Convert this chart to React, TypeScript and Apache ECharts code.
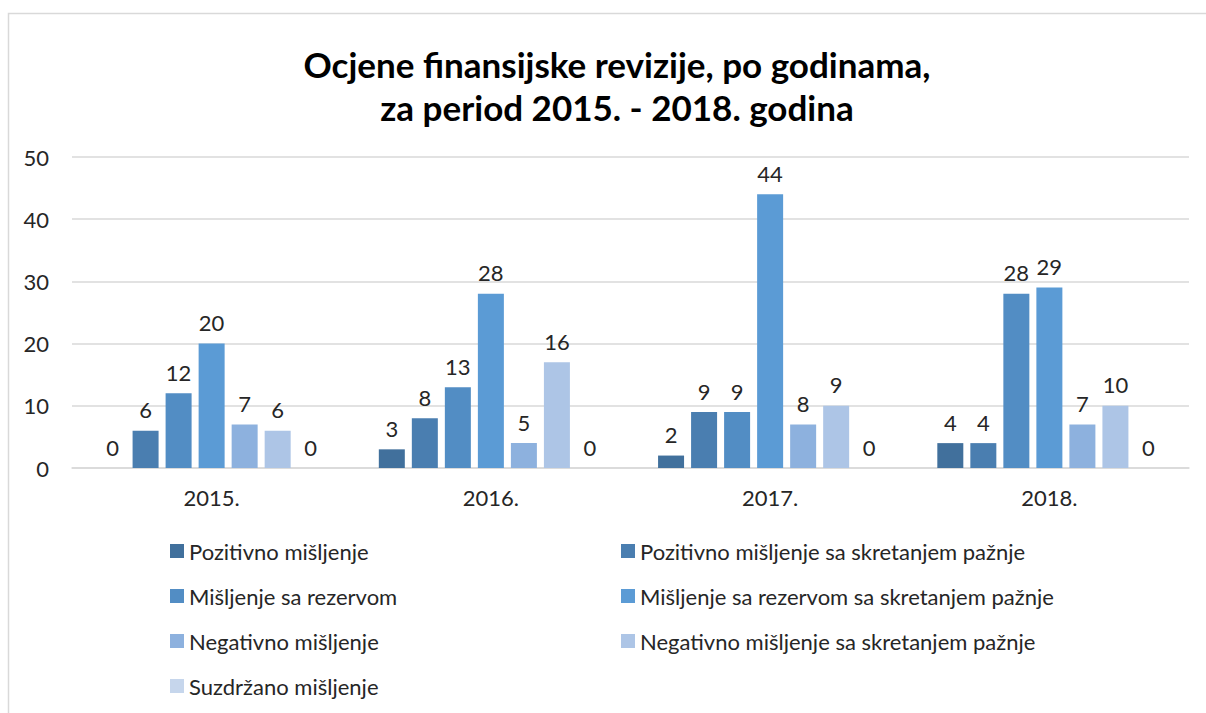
import React, { useEffect, useRef } from "react";
import * as echarts from "echarts";

const years = ["2015.", "2016.", "2017.", "2018."];
const seriesNames = [
  "Pozitivno mišljenje",
  "Pozitivno mišljenje sa skretanjem pažnje",
  "Mišljenje sa rezervom",
  "Mišljenje sa rezervom sa skretanjem pažnje",
  "Negativno mišljenje",
  "Negativno mišljenje sa skretanjem pažnje",
  "Suzdržano mišljenje",
];
// bar heights as drawn in the reference
const pozitivno = [0, 3, 2, 4];
const pozitivnoSkretanje = [6, 8, 9, 4];
const rezerva = [12, 13, 9, 28];
const rezervaSkretanje = [20, 28, 44, 29];
const negativno = [7, 4, 7, 7];
const negativnoSkretanje = [6, 17, 10, 10];
const suzdrzano = [0, 0, 0, 0];
// data labels as printed in the reference
const negativnoLabels = [7, 5, 8, 7];
const negativnoSkretanjeLabels = [6, 16, 9, 10];

const yTicks = [0, 10, 20, 30, 40, 50];

const colors = ["#41709C", "#4A7EB0", "#528DC4", "#5B9BD5", "#8DB1DE", "#ADC5E6", "#C6D6EC"];

export default function App() {
  const ref = useRef<HTMLDivElement>(null);
  useEffect(() => {
    if (!ref.current) return;
    const chart = echarts.init(ref.current, undefined, { renderer: "svg" });
    const font = "Lato, 'Open Sans', sans-serif";
    const values = [pozitivno, pozitivnoSkretanje, rezerva, rezervaSkretanje, negativno, negativnoSkretanje, suzdrzano];
    const labels = [pozitivno, pozitivnoSkretanje, rezerva, rezervaSkretanje, negativnoLabels, negativnoSkretanjeLabels, suzdrzano];
    const legendPos = [
      { left: 170, row: 0 },
      { left: 621, row: 0 },
      { left: 170, row: 1 },
      { left: 621, row: 1 },
      { left: 170, row: 2 },
      { left: 621, row: 2 },
      { left: 170, row: 3 },
    ];
    chart.setOption({
      animation: false,
      textStyle: { fontFamily: font },
      title: {
        text: "Ocjene finansijske revizije, po godinama,\nza period 2015. - 2018. godina",
        left: 612,
        top: 37,
        textAlign: "center",
        textStyle: { fontFamily: font, fontSize: 35, fontWeight: "bold", color: "#000", lineHeight: 43 },
      },
      graphic: [
        {
          type: "rect",
          shape: { x: 8.5, y: 13.5, width: 1300, height: 800 },
          style: { fill: "none", stroke: "#D9D9D9", lineWidth: 1.5 },
          silent: true,
        },
      ],
      legend: seriesNames.map((n, i) => ({
        data: [n],
        left: legendPos[i].left,
        top: 540 + legendPos[i].row * 45,
        itemWidth: 14,
        itemHeight: 14,
        icon: "rect",
        padding: 0,
        selectedMode: false,
        textStyle: { fontFamily: font, fontSize: 22, color: "#262626" },
      })),
      grid: { left: 72, right: 17, top: 157, bottom: 245, containLabel: false },
      xAxis: {
        type: "category",
        data: years,
        axisLine: { show: true, lineStyle: { color: "#D9D9D9", width: 1.5 } },
        axisTick: { show: false },
        axisLabel: { fontFamily: font, fontSize: 22, color: "#262626", margin: 18 },
      },
      yAxis: {
        type: "value",
        min: yTicks[0],
        max: yTicks[yTicks.length - 1],
        interval: 10,
        axisLine: { show: false },
        axisTick: { show: false },
        splitLine: { lineStyle: { color: "#D9D9D9", width: 1.5 } },
        axisLabel: { fontFamily: font, fontSize: 22, color: "#262626", margin: 23 },
      },
      series: seriesNames.map((n, i) => ({
        name: n,
        type: "bar",
        data: values[i],
        barWidth: 26,
        barGap: "27%",
        itemStyle: { color: colors[i] },
        label: {
          show: true,
          position: "top",
          distance: 10,
          fontFamily: font,
          fontSize: 22,
          color: "#262626",
          formatter: (p: any) => String(labels[i][p.dataIndex]),
        },
      })),
    });
    return () => chart.dispose();
  }, []);
  return (
    <div
      ref={ref}
      style={{ position: "absolute", left: 0, top: 0, width: 1206, height: 713, background: "#fff" }}
    />
  );
}
